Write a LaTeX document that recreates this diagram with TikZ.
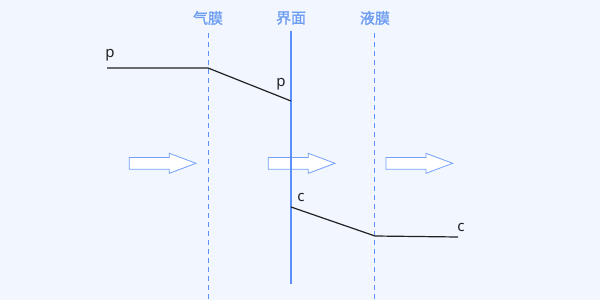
\documentclass[tikz,border=0pt]{standalone}
\usepackage{fontspec}
\setmainfont{Noto Sans}
\newfontfamily\cjk{Noto Sans CJK SC}[FakeBold=1.2]
\definecolor{bgc}{HTML}{F1F6FF}
\definecolor{blu}{HTML}{5B8FF9}
\definecolor{lab}{HTML}{6E9EF2}
\definecolor{ink}{HTML}{222222}
\tikzset{
  dashv/.style={draw=blu, line width=1pt, dash pattern=on 5pt off 4pt},
  curve/.style={draw=ink, line width=1.2pt},
  fluxarrow/.style={draw=blu!85, line width=0.8pt, fill=white, line join=miter},
  head/.style={font=\cjk\fontsize{15}{17}\selectfont, text=lab, inner sep=0pt},
  sym/.style={font=\fontsize{15}{17}\selectfont, text=ink, inner sep=0pt}
}
\begin{document}
\begin{tikzpicture}[x=1pt,y=-1pt]
\fill[bgc] (0,0) rectangle (600,300);
\useasboundingbox (0,0) rectangle (600,300);
% labels
\node[head] (lg) at (208,18) {气膜};
\node[head] (li) at (291,18) {界面};
\node[head] (ll) at (375,18) {液膜};
% vertical lines
\coordinate (g1) at (208,33); \coordinate (g2) at (208,300);
\coordinate (l1) at (374.6,33); \coordinate (l2) at (374.6,300);
\coordinate (i1) at (291,31); \coordinate (i2) at (291,284);
\draw[dashv] (g1) -- (g2);
\draw[dashv] (l1) -- (l2);
% arrows
\foreach \t/\h/\e [count=\k] in {129.3/169.3/196, 268.3/308.3/335, 386/426/452.7}{
  \draw[fluxarrow] (\t,157.5) -- (\h,157.5) -- (\h,153.3) -- (\e,163.3) -- (\h,173.3) -- (\h,169.3) -- (\t,169.3) -- cycle;
}
\draw[draw=blu, line width=1.8pt] (i1) -- (i2);
% p curve
\coordinate (p0) at (107,68); \coordinate (p1) at (208,68); \coordinate (p2) at (291,101);
\draw[curve] (p0) -- (p1) -- (p2);
\node[sym] (pa) at (110,55) {p};
\node[sym] (pb) at (281,84) {p};
% c curve
\coordinate (c0) at (291,207); \coordinate (c1) at (375,236); \coordinate (c2) at (458,237);
\draw[curve] (c0) -- (c1) -- (c2);
\node[sym] (ca) at (301,197) {c};
\node[sym] (cb) at (461,227) {c};
\end{tikzpicture}
\end{document}
